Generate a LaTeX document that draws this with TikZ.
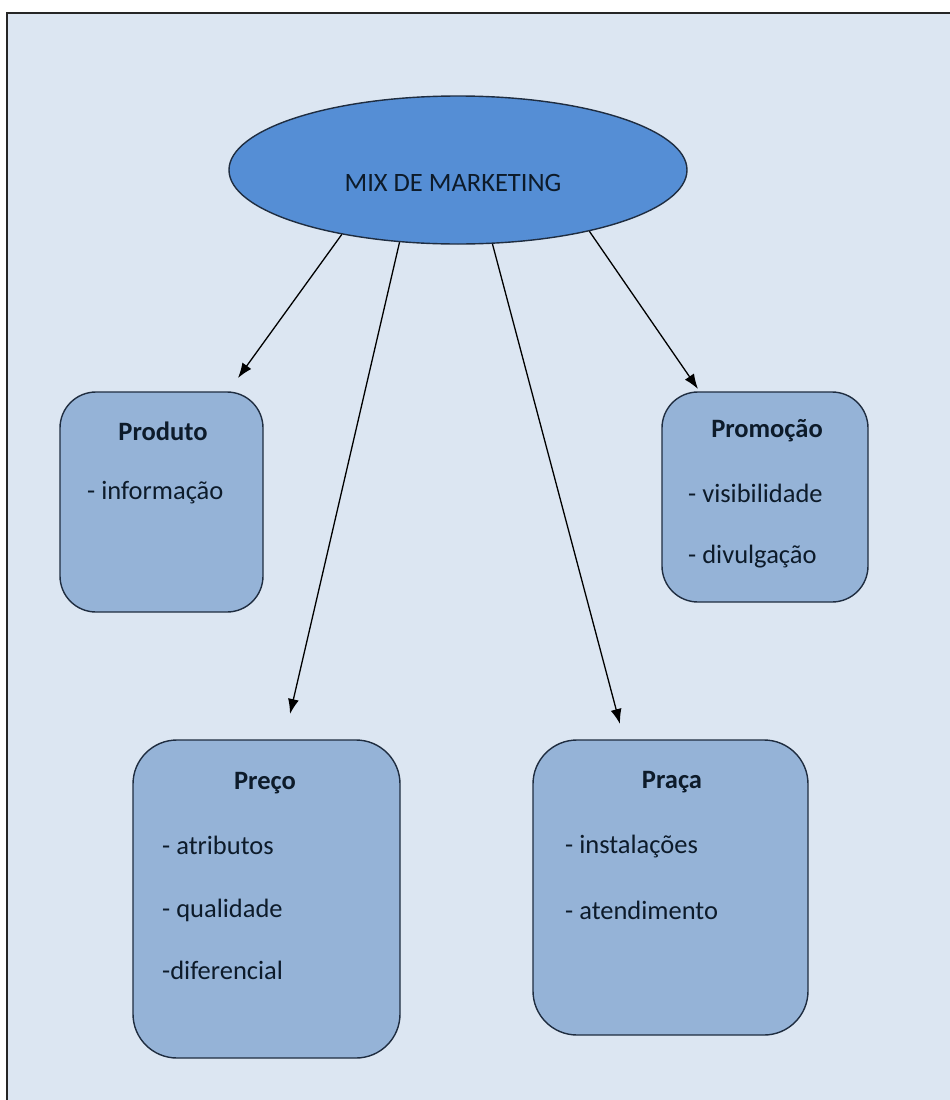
\documentclass[tikz,border=0pt]{standalone}
\usepackage{fontspec}
\setmainfont{Carlito}
\usetikzlibrary{arrows.meta,shapes.geometric}
\definecolor{bgblue}{HTML}{DCE6F2}
\definecolor{ellfill}{HTML}{558ED5}
\definecolor{boxfill}{HTML}{95B3D7}
\definecolor{outl}{HTML}{1F2D40}
\definecolor{txt}{HTML}{0D1B2A}
\begin{document}
\begin{tikzpicture}[x=1pt,y=-1pt,
  card/.style={draw=outl, line width=1.4pt, fill=boxfill, rounded corners=#1, inner sep=0pt},
  card/.default=36pt,
  title/.style={font=\fontsize{26.5}{30}\selectfont\bfseries, text=txt, inner sep=0pt, anchor=center},
  item/.style={font=\fontsize{26.5}{30}\selectfont, text=txt, inner sep=0pt, anchor=west},
  arr/.style={line width=1.3pt, draw=black, -{Latex[length=15pt,width=11pt]}}]
\useasboundingbox (0,0) rectangle (950,1100);
\fill[white] (0,0) rectangle (950,1100);
\fill[bgblue] (7,13) rectangle (950,1100);
\draw[line width=1.8pt, black!85] (7,1100) -- (7,13) -- (950,13);

% central ellipse
\node[ellipse, draw=outl, line width=1.4pt, fill=ellfill, minimum width=458pt, minimum height=148pt, inner sep=0pt] (mix) at (458,170) {};
\node[font=\fontsize{26.5}{30}\selectfont, text=txt, inner sep=0pt] (mixT) at (453,183) {MIX DE MARKETING};

% boxes
\node[card, minimum width=203pt, minimum height=220pt] (produto) at (161.5,502) {};
\node[card, minimum width=206pt, minimum height=210pt] (promocao) at (765,497) {};
\node[card=44pt, minimum width=267pt, minimum height=318pt] (preco) at (266.5,899) {};
\node[card=44pt, minimum width=275pt, minimum height=295pt] (praca) at (670.5,887.5) {};

% texts
\node[title] (produtoT) at (163,431) {Produto};
\node[item] (produtoA) at (87,493) {- informação};

\node[title] (promocaoT) at (767,431) {Promoção};
\node[item] (promocaoA) at (688,493) {- visibilidade};
\node[item] (promocaoB) at (688,557) {- divulgação};

\node[title] (precoT) at (265,783) {Preço};
\node[item] (precoA) at (162,845) {- atributos};
\node[item] (precoB) at (162,910) {- qualidade};
\node[item] (precoC) at (162,970) {-diferencial};

\node[title] (pracaT) at (672,782) {Praça};
\node[item] (pracaA) at (565,847) {- instalações};
\node[item] (pracaB) at (565,910) {- atendimento};

% arrow ends
\coordinate (e1) at (238,378);
\coordinate (e2) at (290,714);
\coordinate (e3) at (620,724);
\coordinate (e4) at (698,389);

\draw[arr] (mix.209) -- (e1);
\draw[arr] (mix.231.5) -- (e2);
\draw[arr] (mix.295) -- (e3);
\draw[arr] (mix.335.8) -- (e4);
\end{tikzpicture}
\end{document}
